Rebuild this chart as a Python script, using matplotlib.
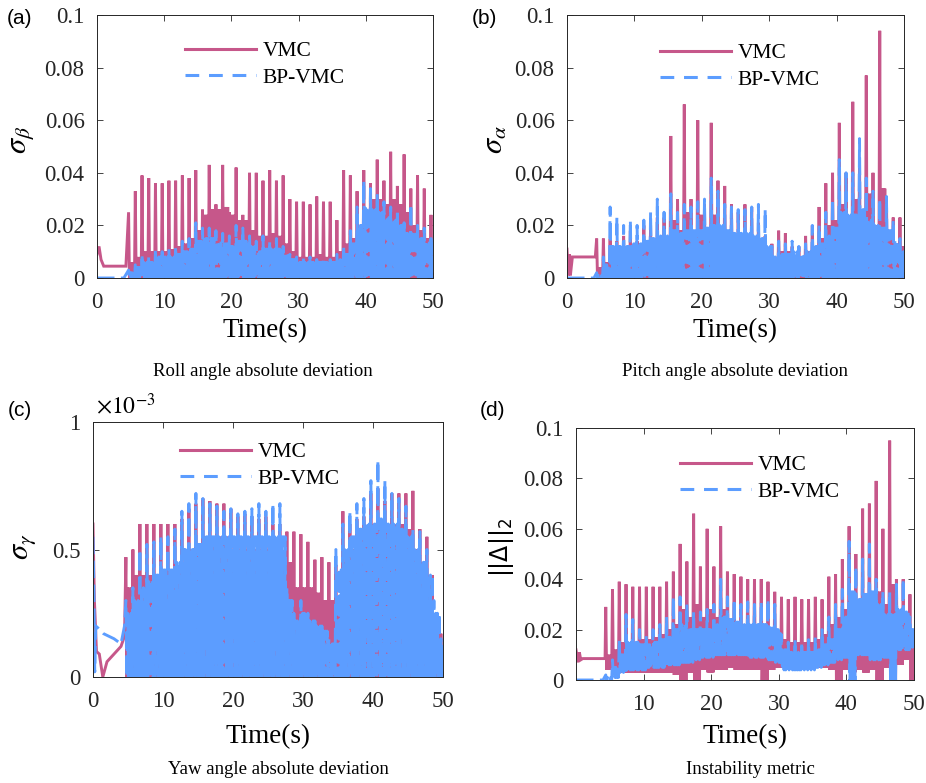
import numpy as np
import matplotlib
matplotlib.use('Agg')
import matplotlib.pyplot as plt
from matplotlib.lines import Line2D
from matplotlib.ticker import FormatStrFormatter

plt.rcParams['font.family'] = ['Liberation Serif', 'DejaVu Serif']
plt.rcParams['mathtext.fontset'] = 'stix'

RED = '#C6578A'
BLUE = '#5C9DFF'

# ---- (a) roll angle: one value per ~1 s oscillation cycle ----
a_t0 = 4.7
a_head_t = [0, 0.3, 0.6, 1.0, 4.3]
a_vmc_head = [0.009, 0.012, 0.007, 0.0045, 0.0045]
a_bp_head_t = [0, 4.0]
a_bp_head = [0.0, 0.0]
a_vmc_peak = [0.025, 0.033, 0.039, 0.038, 0.036, 0.036, 0.037, 0.037, 0.039, 0.038,
              0.041, 0.026, 0.043, 0.028, 0.043, 0.025, 0.042, 0.024, 0.040, 0.040,
              0.037, 0.041, 0.037, 0.039, 0.030, 0.029, 0.029, 0.028, 0.031, 0.029,
              0.029, 0.022, 0.041, 0.039, 0.033, 0.041, 0.036, 0.045, 0.037, 0.048,
              0.035, 0.047, 0.034, 0.039, 0.034, 0.024]
a_vmc_fill = [0.006, 0.008, 0.010, 0.010, 0.010, 0.010, 0.011, 0.012, 0.013, 0.015,
              0.018, 0.024, 0.026, 0.026, 0.027, 0.024, 0.022, 0.022, 0.018, 0.016,
              0.016, 0.017, 0.016, 0.013, 0.010, 0.008, 0.008, 0.008, 0.009, 0.008,
              0.008, 0.010, 0.013, 0.015, 0.020, 0.025, 0.030, 0.030, 0.028, 0.030,
              0.028, 0.025, 0.020, 0.018, 0.015, 0.012]
a_bp_peak = [0.003, 0.005, 0.009, 0.008, 0.011, 0.010, 0.011, 0.012, 0.014, 0.015,
             0.021, 0.019, 0.019, 0.018, 0.017, 0.016, 0.020, 0.019, 0.016, 0.014,
             0.016, 0.014, 0.015, 0.012, 0.009, 0.008, 0.008, 0.008, 0.007, 0.007,
             0.007, 0.009, 0.012, 0.018, 0.027, 0.037, 0.034, 0.032, 0.029, 0.027,
             0.026, 0.021, 0.028, 0.020, 0.019, 0.015]
a_bp_fill = [0.002, 0.004, 0.006, 0.006, 0.008, 0.008, 0.008, 0.009, 0.010, 0.011,
             0.014, 0.015, 0.015, 0.014, 0.013, 0.012, 0.014, 0.014, 0.012, 0.010,
             0.011, 0.011, 0.011, 0.009, 0.007, 0.006, 0.006, 0.006, 0.006, 0.006,
             0.006, 0.007, 0.009, 0.013, 0.020, 0.027, 0.026, 0.025, 0.023, 0.022,
             0.020, 0.017, 0.018, 0.015, 0.014, 0.013]

# ---- (b) pitch angle ----
b_t0 = 4.4
b_head_t = [0, 0.2, 0.35, 0.5, 0.8, 1.0, 4.2]
b_vmc_head = [0.011, 0.001, 0.009, 0.001, 0.008, 0.008, 0.008]
b_bp_head_t = [0, 4.0]
b_bp_head = [0.0, 0.0]
b_vmc_peak = [0.015, 0.015, 0.015, 0.014, 0.016, 0.018, 0.014, 0.020, 0.020, 0.023,
              0.023, 0.054, 0.030, 0.066, 0.030, 0.060, 0.028, 0.059, 0.037, 0.035,
              0.028, 0.025, 0.028, 0.027, 0.021, 0.016, 0.013, 0.018, 0.017, 0.012,
              0.012, 0.016, 0.020, 0.027, 0.036, 0.040, 0.059, 0.040, 0.067, 0.045,
              0.077, 0.040, 0.094, 0.030, 0.023, 0.023]
b_vmc_fill = [0.004, 0.006, 0.008, 0.008, 0.009, 0.010, 0.010, 0.011, 0.012, 0.013,
              0.014, 0.022, 0.018, 0.025, 0.018, 0.024, 0.017, 0.024, 0.018, 0.016,
              0.015, 0.014, 0.015, 0.014, 0.012, 0.010, 0.008, 0.010, 0.010, 0.008,
              0.008, 0.010, 0.012, 0.015, 0.020, 0.022, 0.028, 0.022, 0.030, 0.022,
              0.032, 0.020, 0.034, 0.015, 0.012, 0.012]
b_bp_peak = [0.002, 0.008, 0.027, 0.023, 0.020, 0.022, 0.020, 0.022, 0.025, 0.030,
             0.025, 0.032, 0.025, 0.028, 0.027, 0.029, 0.030, 0.038, 0.033, 0.028,
             0.027, 0.026, 0.026, 0.027, 0.028, 0.026, 0.012, 0.014, 0.013, 0.014,
             0.012, 0.013, 0.020, 0.020, 0.025, 0.030, 0.045, 0.040, 0.040, 0.053,
             0.038, 0.033, 0.030, 0.031, 0.022, 0.015]
b_bp_fill = [0.001, 0.005, 0.012, 0.012, 0.012, 0.013, 0.013, 0.014, 0.015, 0.016,
             0.016, 0.018, 0.017, 0.018, 0.018, 0.018, 0.019, 0.020, 0.020, 0.018,
             0.017, 0.017, 0.017, 0.016, 0.015, 0.012, 0.008, 0.009, 0.009, 0.010,
             0.009, 0.010, 0.012, 0.013, 0.016, 0.019, 0.025, 0.024, 0.024, 0.026,
             0.022, 0.020, 0.019, 0.018, 0.014, 0.010]

# ---- (c) yaw angle, in units of 1e-3 ----
c_t0 = 4.7
c_head_t = [0, 0.2, 0.5, 0.9, 1.4, 2.0, 3.0, 4.0, 4.5]
c_vmc_head = [0.60, 0.30, 0.10, 0.09, 0.0, 0.06, 0.09, 0.12, 0.16]
c_bp_head_t = [0, 0.15, 0.25, 0.4, 0.8, 1.5, 3.0, 4.0, 4.5]
c_bp_head = [0.55, 0.30, 0.02, 0.20, 0.19, 0.17, 0.15, 0.13, 0.20]
c_vmc_peak = [0.47, 0.50, 0.60, 0.60, 0.60, 0.60, 0.60, 0.60, 0.62, 0.66,
              0.68, 0.70, 0.69, 0.68, 0.68, 0.66, 0.63, 0.64, 0.63, 0.62,
              0.63, 0.60, 0.60, 0.57, 0.57, 0.56, 0.53, 0.46, 0.47, 0.45,
              0.44, 0.65, 0.60, 0.62, 0.63, 0.72, 0.74, 0.69, 0.72, 0.72,
              0.72, 0.73, 0.58, 0.55, 0.20, 0.17]
c_vmc_fill = [0.35, 0.40, 0.40, 0.40, 0.38, 0.38, 0.40, 0.40, 0.45, 0.50,
              0.52, 0.55, 0.55, 0.55, 0.55, 0.50, 0.50, 0.50, 0.50, 0.50,
              0.50, 0.48, 0.45, 0.45, 0.35, 0.35, 0.35, 0.33, 0.30, 0.30,
              0.30, 0.45, 0.50, 0.55, 0.55, 0.60, 0.60, 0.58, 0.60, 0.60,
              0.58, 0.50, 0.45, 0.40, 0.15, 0.12]
c_bp_peak = [0.30, 0.35, 0.50, 0.52, 0.53, 0.55, 0.55, 0.58, 0.65, 0.68,
             0.72, 0.70, 0.68, 0.67, 0.65, 0.66, 0.64, 0.65, 0.66, 0.68,
             0.65, 0.68, 0.68, 0.35, 0.25, 0.30, 0.25, 0.22, 0.20, 0.15,
             0.50, 0.60, 0.65, 0.68, 0.70, 0.77, 0.85, 0.77, 0.72, 0.70,
             0.67, 0.58, 0.57, 0.50, 0.30, 0.15]
c_bp_fill = [0.25, 0.30, 0.35, 0.38, 0.40, 0.42, 0.42, 0.45, 0.50, 0.50,
             0.52, 0.55, 0.55, 0.55, 0.55, 0.55, 0.55, 0.55, 0.55, 0.55,
             0.55, 0.55, 0.55, 0.30, 0.22, 0.25, 0.22, 0.20, 0.18, 0.13,
             0.42, 0.50, 0.55, 0.58, 0.60, 0.60, 0.62, 0.60, 0.60, 0.58,
             0.55, 0.50, 0.45, 0.40, 0.25, 0.12]

# ---- (d) instability metric ----
d_t0 = 4.4
d_head_t = [0, 0.3, 0.5, 0.7, 1.0, 4.3]
d_vmc_head = [0.012, 0.007, 0.011, 0.008, 0.0085, 0.0085]
d_bp_head_t = [0, 4.0]
d_bp_head = [0.0, 0.0]
d_vmc_peak = [0.029, 0.036, 0.039, 0.038, 0.037, 0.037, 0.037, 0.037, 0.037, 0.039,
              0.043, 0.054, 0.047, 0.066, 0.045, 0.060, 0.045, 0.061, 0.043, 0.042,
              0.041, 0.040, 0.040, 0.040, 0.039, 0.035, 0.033, 0.032, 0.033, 0.032,
              0.032, 0.033, 0.032, 0.041, 0.042, 0.048, 0.061, 0.050, 0.068, 0.070,
              0.079, 0.060, 0.095, 0.040, 0.040, 0.034]
d_vmc_fill = [0.010, 0.012, 0.015, 0.015, 0.015, 0.016, 0.016, 0.017, 0.018, 0.020,
              0.022, 0.028, 0.025, 0.030, 0.025, 0.028, 0.025, 0.028, 0.024, 0.022,
              0.022, 0.022, 0.021, 0.020, 0.020, 0.018, 0.016, 0.015, 0.015, 0.015,
              0.015, 0.016, 0.018, 0.022, 0.025, 0.028, 0.032, 0.030, 0.033, 0.032,
              0.035, 0.030, 0.038, 0.025, 0.022, 0.020]
d_vmc_low = [0.004, 0.003, 0.003, 0.003, 0.003, 0.003, 0.003, 0.003, 0.003, 0.003,
             0.002, 0.000, 0.003, 0.000, 0.004, 0.003, 0.004, 0.004, 0.005, 0.004,
             0.004, 0.004, 0.004, 0.000, 0.004, 0.005, 0.005, 0.005, 0.005, 0.005,
             0.005, 0.005, 0.005, 0.004, 0.000, 0.004, 0.003, 0.004, 0.003, 0.004,
             0.000, 0.005, 0.000, 0.006, 0.008, 0.000]
d_bp_peak = [0.002, 0.008, 0.016, 0.026, 0.024, 0.020, 0.018, 0.020, 0.022, 0.025,
             0.033, 0.033, 0.030, 0.027, 0.027, 0.028, 0.030, 0.040, 0.033, 0.032,
             0.030, 0.031, 0.030, 0.031, 0.032, 0.030, 0.018, 0.015, 0.016, 0.015,
             0.016, 0.017, 0.020, 0.025, 0.030, 0.036, 0.055, 0.045, 0.048, 0.054,
             0.040, 0.035, 0.035, 0.038, 0.040, 0.025]
d_bp_fill = [0.001, 0.005, 0.010, 0.015, 0.015, 0.014, 0.014, 0.015, 0.016, 0.017,
             0.020, 0.022, 0.020, 0.020, 0.020, 0.020, 0.022, 0.025, 0.024, 0.023,
             0.022, 0.022, 0.022, 0.022, 0.022, 0.020, 0.012, 0.011, 0.011, 0.011,
             0.011, 0.012, 0.014, 0.016, 0.020, 0.025, 0.035, 0.032, 0.034, 0.035,
             0.030, 0.026, 0.026, 0.028, 0.027, 0.020]
d_bp_low = [0.000, 0.001, 0.003, 0.004, 0.004, 0.004, 0.005, 0.005, 0.005, 0.006,
            0.006, 0.007, 0.007, 0.008, 0.009, 0.009, 0.010, 0.010, 0.010, 0.010,
            0.010, 0.009, 0.009, 0.009, 0.008, 0.007, 0.004, 0.004, 0.004, 0.004,
            0.004, 0.005, 0.006, 0.007, 0.008, 0.009, 0.000, 0.010, 0.010, 0.008,
            0.008, 0.009, 0.000, 0.012, 0.012, 0.013]


def build(head_t, head_v, t0, peak, fill, low=0.0):
    # each 1 s cycle: one tall spike followed by a few smaller swings
    peak = np.asarray(peak)
    fill = np.asarray(fill)
    low = np.broadcast_to(np.asarray(low, dtype=float), peak.shape)
    sub = np.arange(8) / 8
    t = t0 + np.arange(len(peak))[:, None] + sub[None, :]
    v = np.stack([peak, low, fill, low, fill, low, fill, low], axis=1)
    return np.r_[head_t, t.ravel()], np.r_[head_v, v.ravel()]


W, H = 926, 783
fig = plt.figure(figsize=(W / 100, H / 100), dpi=100)


def px_axes(l, t, r, b):
    return fig.add_axes([l / W, 1 - b / H, (r - l) / W, (b - t) / H])


panels = [
    dict(box=(97, 15, 433, 278), t0=a_t0,
         vmc=(a_head_t, a_vmc_head, a_vmc_peak, a_vmc_fill, 0.0),
         bp=(a_bp_head_t, a_bp_head, a_bp_peak, a_bp_fill, 0.0),
         ylim=(0, 0.1), yticks=[0, 0.02, 0.04, 0.06, 0.08, 0.1],
         xticks=[0, 10, 20, 30, 40, 50], leg=(0.262, 0.9)),
    dict(box=(567, 15, 904, 278), t0=b_t0,
         vmc=(b_head_t, b_vmc_head, b_vmc_peak, b_vmc_fill, 0.0),
         bp=(b_bp_head_t, b_bp_head, b_bp_peak, b_bp_fill, 0.0),
         ylim=(0, 0.1), yticks=[0, 0.02, 0.04, 0.06, 0.08, 0.1],
         xticks=[0, 10, 20, 30, 40, 50], leg=(0.276, 0.892)),
    dict(box=(93, 422, 443, 677), t0=c_t0,
         vmc=(c_head_t, c_vmc_head, c_vmc_peak, c_vmc_fill, 0.0),
         bp=(c_bp_head_t, c_bp_head, c_bp_peak, c_bp_fill, 0.0),
         ylim=(0, 1), yticks=[0, 0.5, 1],
         xticks=[0, 10, 20, 30, 40, 50], leg=(0.249, 0.92)),
    dict(box=(576, 428, 914, 680), t0=d_t0,
         vmc=(d_head_t, d_vmc_head, d_vmc_peak, d_vmc_fill, d_vmc_low),
         bp=(d_bp_head_t, d_bp_head, d_bp_peak, d_bp_fill, d_bp_low),
         ylim=(0, 0.1), yticks=[0, 0.02, 0.04, 0.06, 0.08, 0.1],
         xticks=[10, 20, 30, 40, 50], leg=(0.308, 0.892)),
]

for p in panels:
    ax = px_axes(*p['box'])
    ht, hv, pk, fl, lo = p['vmc']
    tv, vv = build(ht, hv, p['t0'], pk, fl, lo)
    ax.plot(tv, vv, color=RED, lw=2.1, solid_joinstyle='miter')
    ht, hv, pk, fl, lo = p['bp']
    tb, vb = build(ht, hv, p['t0'], pk, fl, lo)
    ax.plot(tb, vb, color=BLUE, lw=2.1, dashes=(6, 2.2))
    ax.set_xlim(0, 50)
    ax.set_ylim(*p['ylim'])
    ax.set_xticks(p['xticks'])
    ax.set_yticks(p['yticks'])
    ax.yaxis.set_major_formatter(FormatStrFormatter('%g'))
    ax.tick_params(direction='in', length=4, width=0.6, top=True, right=True,
                   labelsize=16.5, colors='#262626')
    ax.tick_params(axis='x', pad=10)
    ax.tick_params(axis='y', pad=9)
    for s in ax.spines.values():
        s.set_linewidth(0.7)
        s.set_color('#262626')
    handles = [Line2D([], [], color=RED, lw=2.2),
               Line2D([], [], color=BLUE, lw=2.2, dashes=(4.5, 3.2))]
    ax.legend(handles, ['VMC', 'BP-VMC'], loc='upper left', bbox_to_anchor=p['leg'],
              frameon=False, fontsize=15.5, handlelength=3.3, handletextpad=0.3,
              labelspacing=0.3, borderpad=0, borderaxespad=0)


def ftext(x, y, s, **kw):
    fig.text(x / W, 1 - y / H, s, ha='center', va='center', **kw)


for x, y in [(265, 331), (735, 331), (268, 737), (745, 737)]:
    ftext(x, y, 'Time(s)', fontsize=19.5)
ftext(263, 371, 'Roll angle absolute deviation', fontsize=13.5)
ftext(735, 371, 'Pitch angle absolute deviation', fontsize=13.5)
ftext(278, 770, 'Yaw angle absolute deviation', fontsize=13.5)
ftext(750, 770, 'Instability metric', fontsize=13.5)

for x, y, s in [(20, 19, '(a)'), (484, 19, '(b)'), (20, 410, '(c)'), (493, 410, '(d)')]:
    ftext(x, y, s, fontsize=15, family='Liberation Sans')

ftext(22, 140, r'$\sigma_{\beta}$', fontsize=22, rotation=90)
ftext(495, 140, r'$\sigma_{\alpha}$', fontsize=22, rotation=90)
ftext(24, 547, r'$\sigma_{\gamma}$', fontsize=22, rotation=90)
ftext(501, 547, r'$||\Delta||_2$', fontsize=17, rotation=90,
      math_fontfamily='dejavusans')
ftext(126, 406, r'$\times10^{-3}$', fontsize=17)

fig.savefig('out.png', dpi=100)
